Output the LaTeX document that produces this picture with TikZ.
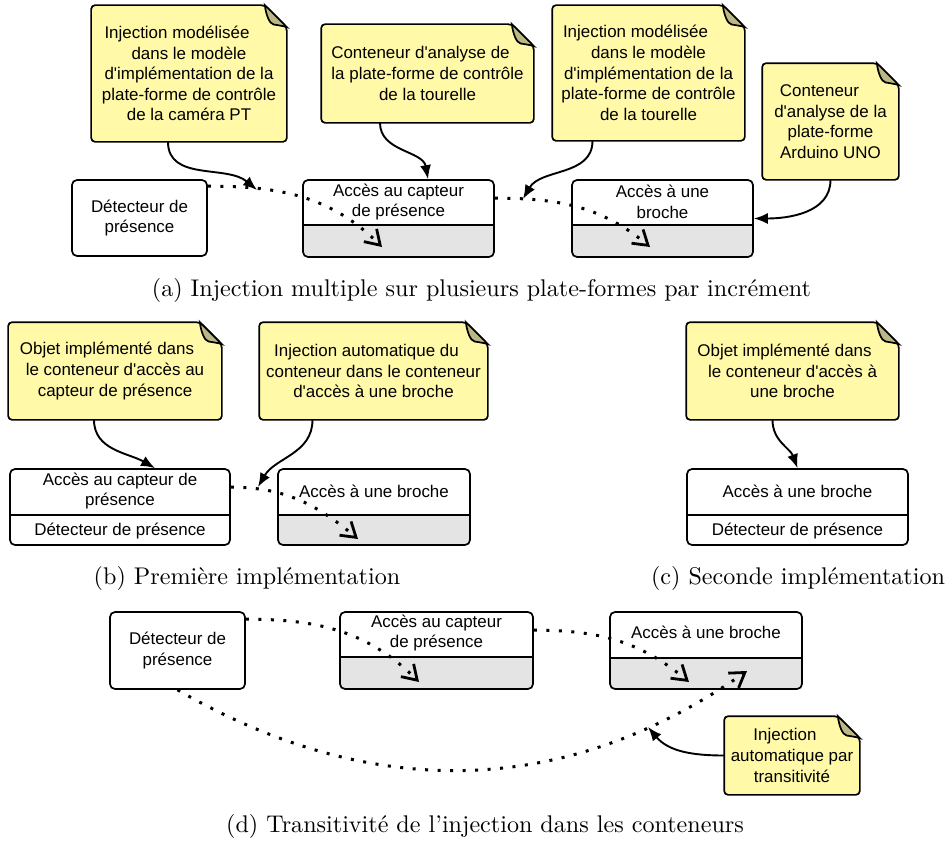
\documentclass[tikz,border=0pt]{standalone}
\usepackage{fontspec}
\usepackage{graphicx}
\usetikzlibrary{arrows.meta}
\newfontfamily\arialf{Liberation Sans}
\definecolor{notefill}{HTML}{FFF9A8}
\definecolor{foldcol}{HTML}{BBB886}
\definecolor{boxgray}{HTML}{E4E4E4}
\makeatletter
\def\dogear{22bp}
\pgfdeclareshape{dognote}{
  \inheritsavedanchors[from=rectangle]
  \inheritanchorborder[from=rectangle]
  \inheritanchor[from=rectangle]{center}
  \inheritanchor[from=rectangle]{north}
  \inheritanchor[from=rectangle]{south}
  \inheritanchor[from=rectangle]{east}
  \inheritanchor[from=rectangle]{west}
  \inheritanchor[from=rectangle]{north east}
  \inheritanchor[from=rectangle]{north west}
  \inheritanchor[from=rectangle]{south east}
  \inheritanchor[from=rectangle]{south west}
  \inheritanchor[from=rectangle]{text}
  \inheritanchor[from=rectangle]{base}
  \inheritanchor[from=rectangle]{mid}
  \backgroundpath{%
    \southwest \edef\dn@xa{\the\pgf@x}\edef\dn@ya{\the\pgf@y}%
    \northeast \edef\dn@xb{\the\pgf@x}\edef\dn@yb{\the\pgf@y}%
    \pgfpathmoveto{\pgfqpoint{\dn@xa}{\dn@ya}}%
    \pgfpathlineto{\pgfqpoint{\dn@xa}{\dn@yb}}%
    \pgfpathlineto{\pgfpoint{\dn@xb-\dogear}{\dn@yb}}%
    \pgfpathlineto{\pgfpoint{\dn@xb}{\dn@yb-\dogear}}%
    \pgfpathlineto{\pgfqpoint{\dn@xb}{\dn@ya}}%
    \pgfpathclose
  }%
  \beforeforegroundpath{%
    \southwest \edef\dn@xa{\the\pgf@x}\edef\dn@ya{\the\pgf@y}%
    \northeast \edef\dn@xb{\the\pgf@x}\edef\dn@yb{\the\pgf@y}%
    \pgfsetcornersarced{\pgfpointorigin}%
    \pgfpathmoveto{\pgfpoint{\dn@xb-\dogear}{\dn@yb}}%
    \pgfpathcurveto{\pgfpoint{\dn@xb-\dogear+1bp}{\dn@yb-0.4*\dogear}}%
                   {\pgfpoint{\dn@xb-0.8*\dogear}{\dn@yb-0.85*\dogear}}%
                   {\pgfpoint{\dn@xb-0.6*\dogear}{\dn@yb-0.88*\dogear}}%
    \pgfpathcurveto{\pgfpoint{\dn@xb-0.35*\dogear}{\dn@yb-0.92*\dogear}}%
                   {\pgfpoint{\dn@xb-0.15*\dogear}{\dn@yb-0.95*\dogear}}%
                   {\pgfpoint{\dn@xb}{\dn@yb-\dogear}}%
    \pgfpathclose
    \pgfsetfillcolor{foldcol}%
    \pgfsetstrokecolor{black}%
    \pgfusepath{fill,stroke}%
  }%
}
\makeatother
\tikzset{
  lbl/.style={font=\arialf\fontsize{17}{20.7}\selectfont, align=center, inner sep=0pt},
  note/.style={shape=dognote, lbl, draw=black, line width=1.7bp, fill=notefill, rounded corners=4bp},
  plainbox/.style={lbl, draw=black, line width=1.7bp, rounded corners=5bp, fill=white},
  splitbox/.style 2 args={draw=black, line width=1.7bp, rounded corners=5bp, fill=white, inner sep=0pt,
    path picture={
      \fill[#1] ([yshift=#2]path picture bounding box.south west) rectangle (path picture bounding box.south east);
      \draw[line width=1.7bp] ([yshift=#2]path picture bounding box.south west) -- ([yshift=#2]path picture bounding box.south east);
    }},
  dotarrow/.style={line width=3bp, dash pattern=on 3bp off 9.5bp,
    -{Straight Barb[length=14bp,width=18bp,line width=2.8bp]}},
  solidarrow/.style={line width=1.9bp, -{Latex[length=14bp,width=11bp]}},
  capt/.style={inner sep=0pt},
}
\begin{document}
\begin{tikzpicture}[x=1bp,y=-1bp]
\useasboundingbox (0,0) rectangle (949,841);

% ---------------- (a) ----------------
\node[plainbox, minimum width=135bp, minimum height=76bp] (detA) at (139.5,218) {Détecteur de\\présence};
\node[splitbox={boxgray}{32bp}, minimum width=191bp, minimum height=77bp] (capA) at (398.5,218.5) {};
\node[lbl] (tcapA) at (398.5,202) {Accès au capteur\\de présence};
\node[splitbox={boxgray}{32bp}, minimum width=181bp, minimum height=77bp] (broA) at (662.5,218.5) {};
\node[lbl] (tbroA) at (662.5,202) {Accès à une\\broche};

\node[note, minimum width=194bp, minimum height=135bp] (n1) at (189,73.5)
  {Injection modélisée\hspace*{24bp}\\dans le modèle\\d'implémentation de la\\plate-forme de contrôle\\de la caméra PT};
\node[note, minimum width=211bp, minimum height=97bp] (n2) at (427.5,73.5)
  {Conteneur d'analyse de\hspace*{14bp}\\la plate-forme de contrôle\\de la tourelle};
\node[note, minimum width=191bp, minimum height=134bp] (n3) at (648.5,73)
  {Injection modélisée\hspace*{26bp}\\dans le modèle\\d'implémentation de la\\plate-forme de contrôle\\de la tourelle};
\node[note, minimum width=135bp, minimum height=115bp] (n4) at (830.5,121.5)
  {Conteneur\hspace*{22bp}\\d'analyse de la\\plate-forme\\Arduino UNO};

\coordinate (tipA1) at (382,247);
\coordinate (tipA2) at (650,247);
\coordinate (tA1) at (257,190);
\coordinate (tA3) at (523,199);
\draw[dotarrow] ([yshift=-7bp]detA.north east) to[out=0,in=135] (tipA1);
\draw[dotarrow] ([yshift=-19bp]capA.north east) to[out=0,in=140] (tipA2);
\draw[solidarrow] ([xshift=-21bp]n1.south) to[out=-90,in=140] (tA1);
\draw[solidarrow] ([xshift=-47.5bp]n2.south) to[out=-90,in=100] ([xshift=29.5bp]capA.north);
\draw[solidarrow] ([xshift=-56bp]n3.south) to[out=-90,in=60] (tA3);
\draw[solidarrow] (n4.south) to[out=-90,in=0] (broA.east);

\node[capt] (captA) at (481.5,290) {\scalebox{2.42}{(a) Injection multiple sur plusieurs plate-formes par incrément}};

% ---------------- (b) ----------------
\node[splitbox={white}{30bp}, minimum width=220bp, minimum height=76bp] (boxB1) at (120,507) {};
\node[lbl] (tboxB1) at (120,491) {Accès au capteur de\\présence};
\node[lbl] (bboxB1) at (120,531) {Détecteur de présence};
\node[splitbox={boxgray}{30bp}, minimum width=192bp, minimum height=76bp] (boxB2) at (374,507) {};
\node[lbl] (tboxB2) at (374,491) {Accès à une broche};

\node[note, minimum width=212bp, minimum height=96bp] (nb1) at (115,371)
  {Objet implémenté dans\hspace*{16bp}\\le conteneur d'accès au\\capteur de présence};
\node[note, minimum width=227bp, minimum height=96bp] (nb2) at (373.5,371)
  {Injection automatique du\hspace*{14bp}\\conteneur dans le conteneur\\d'accès à une broche};

\coordinate (tipB) at (358,539);
\coordinate (tB2) at (258,487);
\draw[dotarrow] ([yshift=-19bp]boxB1.north east) to[out=0,in=140] (tipB);
\draw[solidarrow] ([xshift=-21bp]nb1.south) to[out=-90,in=150] ([xshift=35bp]boxB1.north);
\draw[solidarrow] ([xshift=-61bp]nb2.south) to[out=-90,in=60] (tB2);

\node[capt] (captB) at (247,578) {\scalebox{2.42}{(b) Première implémentation}};

% ---------------- (c) ----------------
\node[splitbox={white}{30bp}, minimum width=221bp, minimum height=76bp] (boxC) at (797.5,507) {};
\node[lbl] (tboxC) at (797.5,491) {Accès à une broche};
\node[lbl] (bboxC) at (797.5,531) {Détecteur de présence};
\node[note, minimum width=211bp, minimum height=96bp] (nc1) at (792.5,371)
  {Objet implémenté dans\hspace*{16bp}\\le conteneur d'accès à\\une broche};
\draw[solidarrow] ([xshift=-20bp]nc1.south) to[out=-90,in=110] (boxC.north);

\node[capt] (captC) at (798,578) {\scalebox{2.42}{(c) Seconde implémentation}};

% ---------------- (d) ----------------
\node[plainbox, minimum width=135bp, minimum height=77bp] (detD) at (177.5,650.5) {Détecteur de\\présence};
\node[splitbox={boxgray}{32bp}, minimum width=193bp, minimum height=77bp] (capD) at (436.5,650.5) {};
\node[lbl] (tcapD) at (436.5,633) {Accès au capteur\\de présence};
\node[splitbox={boxgray}{31bp}, minimum width=192bp, minimum height=77bp] (broD) at (706,650.5) {};
\node[lbl] (tbroD) at (706,632) {Accès à une broche};
\node[note, minimum width=134bp, minimum height=77bp] (nd) at (792,755.5)
  {Injection\hspace*{14bp}\\automatique par\\transitivité};

\coordinate (tipD1) at (419,682);
\coordinate (tipD2) at (689,682);
\coordinate (tipD3) at (747,671);
\coordinate (tD) at (648,727);
\draw[dotarrow] ([yshift=-8bp]detD.north east) to[out=0,in=135] (tipD1);
\draw[dotarrow] ([yshift=-19bp]capD.north east) to[out=0,in=140] (tipD2);
\draw[dotarrow] (detD.south) to[out=-30,in=-145] (tipD3);
\draw[solidarrow] (nd.west) to[out=180,in=-50] (tD);

\node[capt] (captD) at (485,826) {\scalebox{2.42}{(d) Transitivité de l'injection dans les conteneurs}};
\end{tikzpicture}
\end{document}
